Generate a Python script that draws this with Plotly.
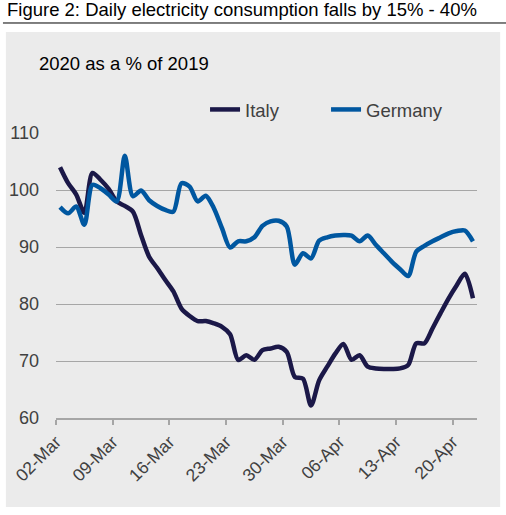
import pandas as pd
import plotly.graph_objects as go

# daily values, 02-Mar to 22-Apr 2020 (2020 as % of 2019)
dates = pd.date_range("2020-03-02 12:00", periods=52, freq="D")

italy = [104.0, 101.2, 99.2, 96.0, 103.0, 101.8, 100.2, 98.0, 97.2, 96.2,
         92.1, 88.3, 86.3, 84.2, 82.2, 79.2, 77.9, 77.0, 77.0, 76.6,
         76.0, 74.7, 70.2, 71.0, 70.2, 71.9, 72.2, 72.5, 71.6, 67.2,
         66.9, 62.2, 66.6, 69.0, 71.3, 73.0, 70.2, 71.0, 69.0, 68.7,
         68.6, 68.6, 68.7, 69.3, 73.1, 73.1, 75.7, 78.4, 81.0, 83.3,
         85.3, 81.0]

germany = [97.0, 95.9, 97.1, 93.9, 100.9, 100.3, 99.2, 98.0, 106.0, 98.9,
           99.9, 98.2, 97.2, 96.5, 96.2, 101.2, 100.6, 98.0, 99.0, 96.8,
           93.3, 89.9, 91.0, 91.0, 91.7, 93.7, 94.5, 94.6, 93.6, 86.9,
           88.9, 88.0, 91.1, 91.7, 92.0, 92.1, 92.0, 91.0, 92.0, 90.4,
           88.9, 87.4, 86.1, 84.9, 89.2, 90.2, 91.0, 91.7, 92.4, 92.8,
           92.9, 91.0]

FONT = "Arial, Liberation Sans, sans-serif"
PANEL = "#EBEBEB"
GRID = "#A6A6A6"
TEXT = "#404040"

fig = go.Figure()

fig.add_trace(go.Scatter(
    x=dates, y=italy, name="Italy", mode="lines",
    line=dict(color="#1B1848", width=4.5, shape="spline", smoothing=0.8),
))
fig.add_trace(go.Scatter(
    x=dates, y=germany, name="Germany", mode="lines",
    line=dict(color="#0057A0", width=4.5, shape="spline", smoothing=0.8),
))

fig.update_layout(
    width=506, height=515,
    margin=dict(l=56, r=29, t=133, b=97, autoexpand=False),
    paper_bgcolor="white",
    plot_bgcolor=PANEL,
    font=dict(family=FONT, size=18, color=TEXT),
    showlegend=True,
    legend=dict(
        orientation="h", x=0.354, y=1.081, xanchor="left", yanchor="middle",
        bgcolor="rgba(0,0,0,0)", font=dict(size=18.5, color=TEXT),
        entrywidthmode="pixels", entrywidth=76,
    ),
    shapes=[
        # grey chart panel
        dict(type="rect", xref="paper", yref="paper", layer="below",
             x0=-0.119, x1=1.055, y0=-0.312, y1=1.354,
             fillcolor=PANEL, line=dict(width=0)),
        # rule under the figure title
        dict(type="line", xref="paper", yref="paper",
             x0=-0.126, x1=1.07, y0=1.386, y1=1.386,
             line=dict(color="black", width=1)),
    ],
    annotations=[
        dict(text="Figure 2: Daily electricity consumption falls by 15% - 40%",
             xref="paper", yref="paper", x=-0.121, y=1.39,
             xanchor="left", yanchor="bottom", showarrow=False,
             font=dict(size=18.5, color="black")),
        dict(text="2020 as a % of 2019", xref="paper", yref="paper",
             x=-0.045, y=1.243, xanchor="left", yanchor="middle",
             showarrow=False, font=dict(size=18.5, color="black")),
    ],
)

fig.update_xaxes(
    type="date",
    range=["2020-03-02", "2020-04-23"],
    tick0="2020-03-02", dtick=7 * 24 * 3600 * 1000,
    tickformat="%d-%b", tickangle=-45,
    ticks="outside", ticklen=5, tickcolor=GRID, tickwidth=1.5,
    showline=True, linecolor=GRID, linewidth=1.5,
    showgrid=False, zeroline=False,
    tickfont=dict(size=17.5, color=TEXT),
)
fig.update_yaxes(
    range=[60, 110], dtick=10,
    showgrid=True, gridcolor=GRID, gridwidth=1,
    zeroline=False, showline=False,
    ticks="", ticklabelstandoff=16,
    tickfont=dict(size=18, color=TEXT),
)

# drop the browser's default body margin so the figure sits at the page corner
fig.write_html("out.html", config={"displayModeBar": False},
               post_script="document.body.style.margin='0';")
